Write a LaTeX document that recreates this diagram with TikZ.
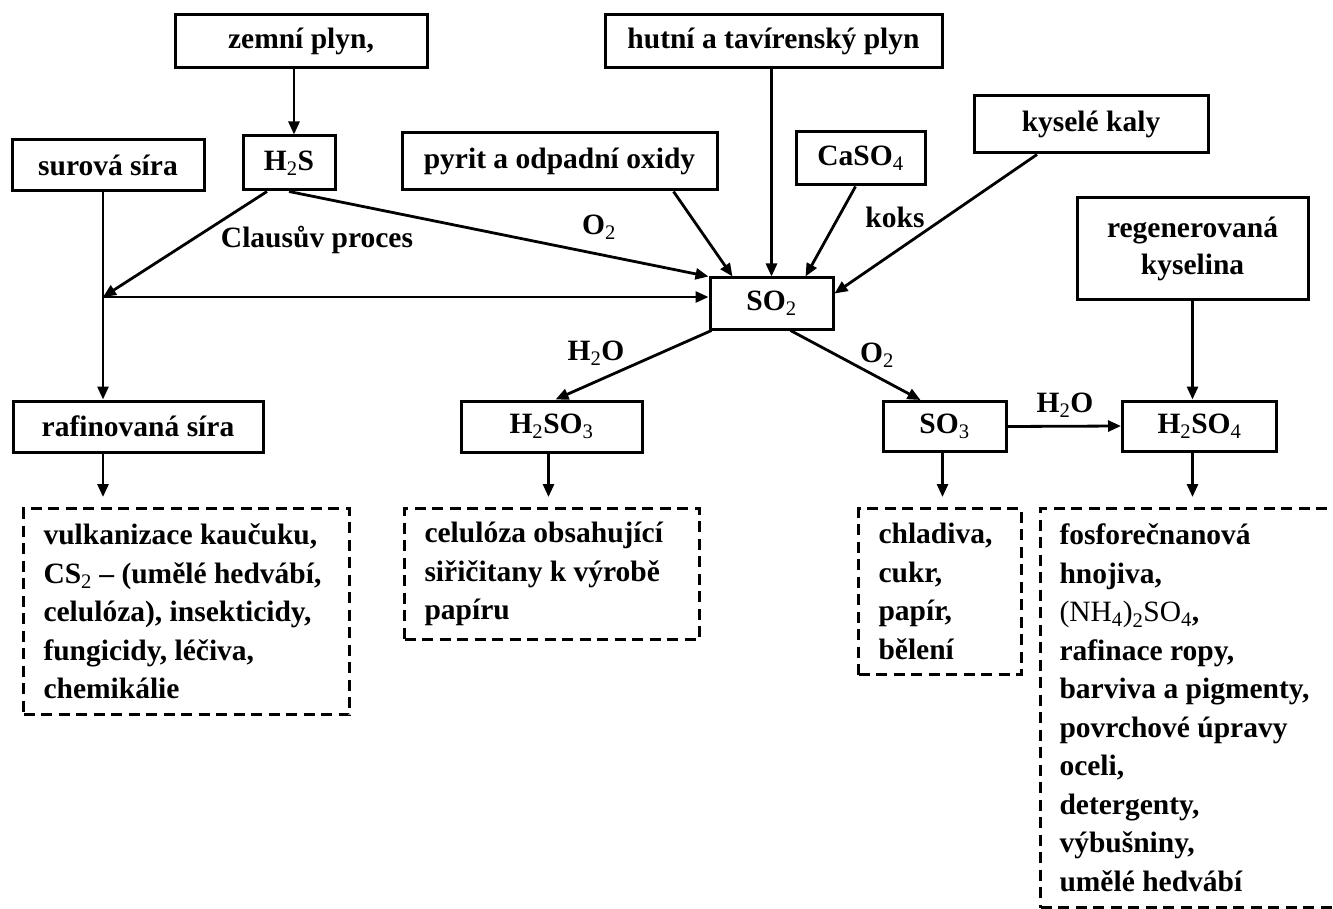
\documentclass[tikz,border=0pt]{standalone}
\usepackage{fontspec}
\setmainfont{Liberation Serif}
\usetikzlibrary{arrows.meta}
\newcommand{\chsub}[1]{\textsubscript{\mdseries #1}}
\tikzset{
  box/.style={draw, line width=3pt, inner sep=0pt},
  usagebox/.style={draw, line width=3pt, dash pattern=on 11pt off 6.5pt, anchor=north west,
    align=flush left, inner xsep=20pt, inner ysep=0pt},
  arr/.style={line width=2.8pt, -{Triangle[length=13pt,width=11pt]}}
}
\begin{document}
\begin{tikzpicture}[x=1pt, y=-1pt, font=\bfseries\fontsize{29.5}{38.5}\selectfont]
    \useasboundingbox (0,0) rectangle (1333,909);
    \clip (0,0) rectangle (1333,909);
    % sources
    \node[box, minimum width=252pt, minimum height=53pt] (gas) at (301,41.5) {zemní plyn,};
    \node[box, minimum width=337pt, minimum height=53pt] (metal) at (773.5,41.5) {hutní a tavírenský plyn};
    \node[box, minimum width=192pt, minimum height=51pt] (raw) at (108,165.5) {surová síra};
    \node[box, minimum width=92pt, minimum height=54pt] (hs) at (289,163) {H\chsub{2}S};
    \node[box, minimum width=315pt, minimum height=57pt] (pyrite) at (559.5,161.5) {pyrit a odpadní oxidy};
    \node[box, minimum width=129pt, minimum height=53pt] (caso) at (860.5,158.5) {CaSO\chsub{4}};
    \node[box, minimum width=234pt, minimum height=57pt] (sludge) at (1091,124.5) {kyselé kaly};
    \node[box, minimum width=231pt, minimum height=102pt, align=center,
      font=\bfseries\fontsize{29.5}{37}\selectfont] (regen) at (1192.5,249) {regenerovaná\\kyselina};
    % products
    \node[box, minimum width=123pt, minimum height=51pt] (so2) at (771.5,303.5) {SO\chsub{2}};
    \node[box, minimum width=250pt, minimum height=51pt] (refined) at (138,426.5) {rafinovaná síra};
    \node[box, minimum width=181pt, minimum height=51pt] (hso3) at (551.5,426.5) {H\chsub{2}SO\chsub{3}};
    \node[box, minimum width=123pt, minimum height=50pt] (so3) at (944.5,426.5) {SO\chsub{3}};
    \node[box, minimum width=154pt, minimum height=50pt] (hso4) at (1199.5,426) {H\chsub{2}SO\chsub{4}};
    % uses
    \node[usagebox, text width=286pt, minimum height=206pt] (use1) at (22,507)
      {vulkanizace kaučuku,\\CS\chsub{2} -- (umělé hedvábí,\\celulóza), insekticidy,\\fungicidy, léčiva,\\chemikálie};
    \node[usagebox, text width=255pt, minimum height=131pt] (use2) at (403,507)
      {celulóza obsahující\\siřičitany k výrobě\\papíru};
    \node[usagebox, text width=123pt, minimum height=166pt] (use3) at (857,507)
      {chladiva,\\cukr,\\papír,\\bělení};
    \node[usagebox, inner xsep=19pt, text width=282pt, minimum height=399pt] (use4) at (1039,507)
      {fosforečnanová\\hnojiva,\\{\mdseries(NH\chsub{4})\chsub{2}SO\chsub{4}},\\rafinace ropy,\\barviva a pigmenty,\\povrchové úpravy\\oceli,\\detergenty,\\výbušniny,\\umělé hedvábí};
    \coordinate (joint) at (103,297);
    % connectors
    \draw[arr] ([xshift=-7pt]gas.south) -- ([xshift=5pt]hs.north);
    \draw[line width=2.8pt] (raw.south -| joint) -- (joint);
    \draw[arr] (joint) -- (joint |- refined.north);
    \draw[arr] ([xshift=-22pt]hs.south) -- (joint);
    \draw[arr] (hs.south) -- (so2.north west);
    \draw[arr] (joint) -- (joint -| so2.west);
    \draw[arr] ([xshift=114pt]pyrite.south) -- ([xshift=-39pt]so2.north);
    \draw[arr] (metal.south -| so2.north) -- (so2.north);
    \draw[arr] ([xshift=-5pt]caso.south) -- ([xshift=34pt]so2.north);
    \draw[arr] ([xshift=-54pt]sludge.south) -- ([yshift=10pt]so2.east);
    \draw[arr] ([xshift=3pt]so2.south west) -- ([xshift=4pt]hso3.north);
    \draw[arr] ([xshift=19pt]so2.south) -- ([xshift=-24pt]so3.north);
    \draw[arr] (so3.east) -- (hso4.west);
    \draw[arr] (regen.south) -- (regen.south |- hso4.north);
    \draw[arr, shorten >=10pt] (refined.south -| joint) -- (joint |- use1.north);
    \draw[arr, shorten >=10pt] ([xshift=-3pt]hso3.south) -- ([xshift=-3pt]hso3.south |- use2.north);
    \draw[arr, shorten >=10pt] ([xshift=-2pt]so3.south) -- ([xshift=-2pt]so3.south |- use3.north);
    \draw[arr, shorten >=10pt] (regen.south |- hso4.south) -- (regen.south |- use4.north);
    % labels
    \node (claus) at (317,240) {Clausův proces};
    \node (oxa) at (599,227) {O\chsub{2}};
    \node (coke) at (895,217) {koks};
    \node (wata) at (596,353) {H\chsub{2}O};
    \node (oxb) at (877,355) {O\chsub{2}};
    \node (watb) at (1065,405) {H\chsub{2}O};
\end{tikzpicture}
\end{document}
